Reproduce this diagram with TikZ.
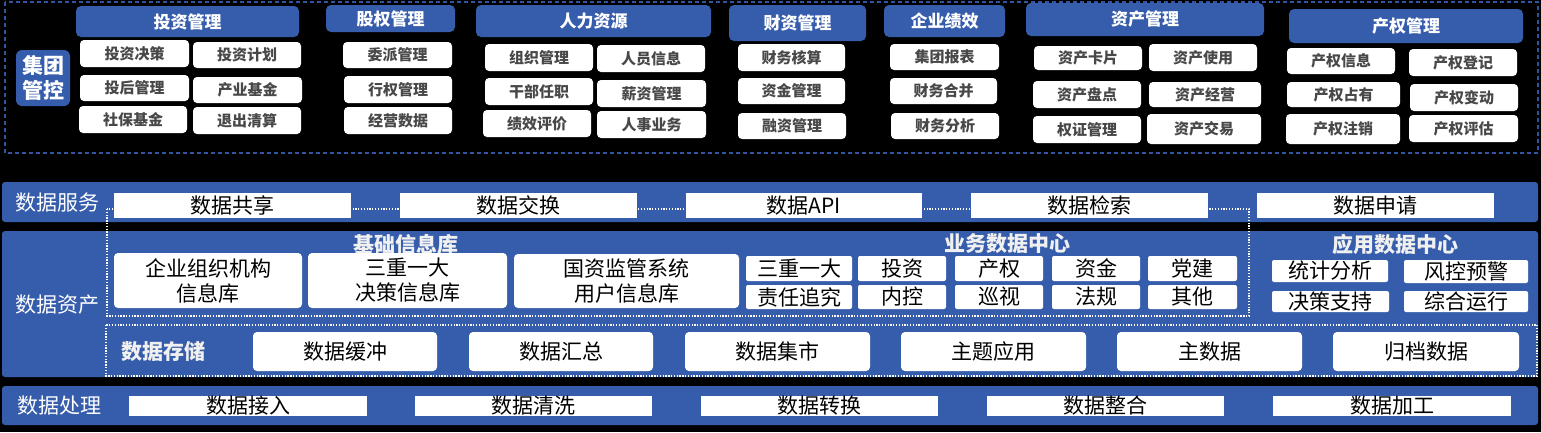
\documentclass[tikz,border=0pt]{standalone}
\usepackage{fontspec}
\setmainfont{Noto Sans CJK SC}
\definecolor{blu}{RGB}{54,93,171}
\definecolor{bord}{RGB}{47,85,160}
\definecolor{subgray}{RGB}{72,72,72}
\definecolor{ttl}{RGB}{240,240,240}
\newcommand\mkbox[7]{\node[#1, minimum width={(#5)-(#3)}, minimum height={(#6)-(#4)}] (#2) at ({((#3)+(#5))/2},{((#4)+(#6))/2}) {#7};}
\tikzset{
  every node/.style={inner sep=0pt, outer sep=0pt},
  hdr/.style={fill=blu, rounded corners=5pt, text=white, font=\bfseries\fontsize{17}{20}\selectfont},
  sub/.style={fill=white, rounded corners=4pt, text=subgray, font=\bfseries\fontsize{15}{18}\selectfont},
  band/.style={fill=blu, rounded corners=3pt},
  lbl/.style={text=white, font=\fontsize{21}{24}\selectfont},
  ttlt/.style={text=ttl, font=\bfseries\fontsize{21}{24}\selectfont},
  wbox/.style={fill=white, text=black, font=\fontsize{21}{25}\selectfont},
  rbox/.style={fill=white, rounded corners=4pt, text=black, align=center, font=\fontsize{21}{25}\selectfont},
  gbox/.style={fill=white, rounded corners=2pt, text=black, font=\fontsize{21}{25}\selectfont},
  dotline/.style={draw=white, line width=1.2pt, dash pattern=on 1.3pt off 1.5pt},
  dashline/.style={draw=bord, line width=1.6pt, dash pattern=on 4pt off 3pt},
}
\begin{document}
\begin{tikzpicture}[x=1pt, y=-1pt]
\fill[black] (0,0) rectangle (1541,432);
\useasboundingbox (0,0) rectangle (1541,432);
% ---------------- top: group control ----------------
\draw[dashline] (5,2) rectangle (1538,153);
\mkbox{fill=blu, rounded corners=6pt, text=white, align=center, font=\bfseries\fontsize{21}{25}\selectfont}{jtgk}{16}{50}{70}{106}{集团\\管控}
% headers
\mkbox{hdr}{h1}{76}{6}{299}{37}{投资管理}
\mkbox{hdr}{h2}{326}{5}{455}{32}{股权管理}
\mkbox{hdr}{h3}{476}{5}{711}{37}{人力资源}
\mkbox{hdr}{h4}{729}{5}{866}{41}{财资管理}
\mkbox{hdr}{h5}{884}{5}{1005}{37}{企业绩效}
\mkbox{hdr}{h6}{1026}{3}{1264}{36}{资产管理}
\mkbox{hdr}{h7}{1289}{9}{1523}{43}{产权管理}
% investment
\mkbox{sub}{a1}{80}{40}{189}{67}{投资决策}
\mkbox{sub}{a2}{193}{42}{301}{68}{投资计划}
\mkbox{sub}{a3}{80}{75}{189}{101}{投后管理}
\mkbox{sub}{a4}{193}{77}{302}{103}{产业基金}
\mkbox{sub}{a5}{79}{106}{187}{133}{社保基金}
\mkbox{sub}{a6}{193}{107}{301}{134}{退出清算}
% equity
\mkbox{sub}{b1}{343}{42}{452}{68}{委派管理}
\mkbox{sub}{b2}{344}{76}{452}{103}{行权管理}
\mkbox{sub}{b3}{344}{107}{452}{134}{经营数据}
% HR
\mkbox{sub}{c1}{485}{44}{593}{71}{组织管理}
\mkbox{sub}{c2}{597}{45}{705}{72}{人员信息}
\mkbox{sub}{c3}{485}{78}{593}{105}{干部任职}
\mkbox{sub}{c4}{597}{80}{706}{107}{薪资管理}
\mkbox{sub}{c5}{483}{110}{591}{137}{绩效评价}
\mkbox{sub}{c6}{597}{111}{706}{138}{人事业务}
% finance
\mkbox{sub}{d1}{738}{44}{845}{71}{财务核算}
\mkbox{sub}{d2}{738}{78}{845}{104}{资金管理}
\mkbox{sub}{d3}{738}{113}{846}{139}{融资管理}
% performance
\mkbox{sub}{e1}{890}{44}{999}{70}{集团报表}
\mkbox{sub}{e2}{890}{78}{997}{104}{财务合并}
\mkbox{sub}{e3}{891}{113}{999}{139}{财务分析}
% assets
\mkbox{sub}{f1}{1034}{46}{1142}{70}{资产卡片}
\mkbox{sub}{f2}{1149}{44}{1257}{71}{资产使用}
\mkbox{sub}{f3}{1033}{81}{1141}{108}{资产盘点}
\mkbox{sub}{f4}{1149}{82}{1261}{107}{资产经营}
\mkbox{sub}{f5}{1033}{116}{1141}{143}{权证管理}
\mkbox{sub}{f6}{1147}{114}{1261}{144}{资产交易}
% property rights
\mkbox{sub}{g1}{1287}{48}{1395}{74}{产权信息}
\mkbox{sub}{g2}{1409}{49}{1517}{76}{产权登记}
\mkbox{sub}{g3}{1287}{82}{1400}{107}{产权占有}
\mkbox{sub}{g4}{1410}{84}{1518}{111}{产权变动}
\mkbox{sub}{g5}{1286}{114}{1400}{144}{产权注销}
\mkbox{sub}{g6}{1409}{115}{1518}{142}{产权评估}
% ---------------- bands ----------------
\mkbox{band}{svc}{2}{182}{1538}{222}{}
\mkbox{band}{ast}{2}{231}{1538}{377}{}
\mkbox{band}{prc}{2}{386}{1538}{425}{}
\node[lbl] (svcl) at (58,203) {数据服务};
\node[lbl] (astl) at (58,305) {数据资产};
\node[lbl] (prcl) at (59,406) {数据处理};
% dotted frames
\draw[dotline] (107,209) rectangle (1249,316);
\draw[dotline] (106,325) rectangle (1537,376);
% service boxes
\mkbox{wbox}{s1}{114}{193}{351}{218}{数据共享}
\mkbox{wbox}{s2}{400}{193}{637}{218}{数据交换}
\mkbox{wbox}{s3}{686}{193}{922}{218}{数据API}
\mkbox{wbox}{s4}{971}{193}{1208}{218}{数据检索}
\mkbox{wbox}{s5}{1257}{193}{1494}{218}{数据申请}
% basic info library
\node[ttlt] (jcxx) at (406,244) {基础信息库};
\mkbox{rbox}{k1}{114}{253}{302}{308}{企业组织机构\\信息库}
\mkbox{rbox}{k2}{308}{253}{507}{308}{三重一大\\决策信息库}
\mkbox{rbox}{k3}{514}{254}{739}{308}{国资监管系统\\用户信息库}
% business data center
\node[ttlt] (ywsj) at (1007,244) {业务数据中心};
\mkbox{gbox}{m1}{746}{256}{852}{281}{三重一大}
\mkbox{gbox}{m2}{858}{256}{946}{281}{投资}
\mkbox{gbox}{m3}{955}{256}{1043}{281}{产权}
\mkbox{gbox}{m4}{1052}{256}{1140}{281}{资金}
\mkbox{gbox}{m5}{1148}{256}{1237}{281}{党建}
\mkbox{gbox}{n1}{746}{285}{852}{309}{责任追究}
\mkbox{gbox}{n2}{858}{285}{946}{309}{内控}
\mkbox{gbox}{n3}{955}{285}{1043}{309}{巡视}
\mkbox{gbox}{n4}{1052}{285}{1140}{309}{法规}
\mkbox{gbox}{n5}{1148}{285}{1237}{309}{其他}
% application data center
\node[ttlt] (yysj) at (1395,244) {应用数据中心};
\mkbox{gbox}{p1}{1272}{260}{1388}{282}{统计分析}
\mkbox{gbox}{p2}{1404}{260}{1528}{283}{风控预警}
\mkbox{gbox}{p3}{1272}{291}{1389}{312}{决策支持}
\mkbox{gbox}{p4}{1404}{291}{1528}{312}{综合运行}
% storage
\node[ttlt] (sjcc) at (163,352) {数据存储};
\mkbox{rbox}{t1}{253}{332}{437}{371}{数据缓冲}
\mkbox{rbox}{t2}{469}{332}{653}{371}{数据汇总}
\mkbox{rbox}{t3}{685}{332}{870}{371}{数据集市}
\mkbox{rbox}{t4}{901}{332}{1086}{371}{主题应用}
\mkbox{rbox}{t5}{1117}{332}{1302}{371}{主数据}
\mkbox{rbox}{t6}{1333}{332}{1519}{371}{归档数据}
% processing
\mkbox{wbox}{q1}{129}{396}{367}{416}{数据接入}
\mkbox{wbox}{q2}{415}{396}{652}{416}{数据清洗}
\mkbox{wbox}{q3}{701}{396}{938}{416}{数据转换}
\mkbox{wbox}{q4}{987}{396}{1224}{416}{数据整合}
\mkbox{wbox}{q5}{1273}{396}{1511}{416}{数据加工}
\end{tikzpicture}
\end{document}
